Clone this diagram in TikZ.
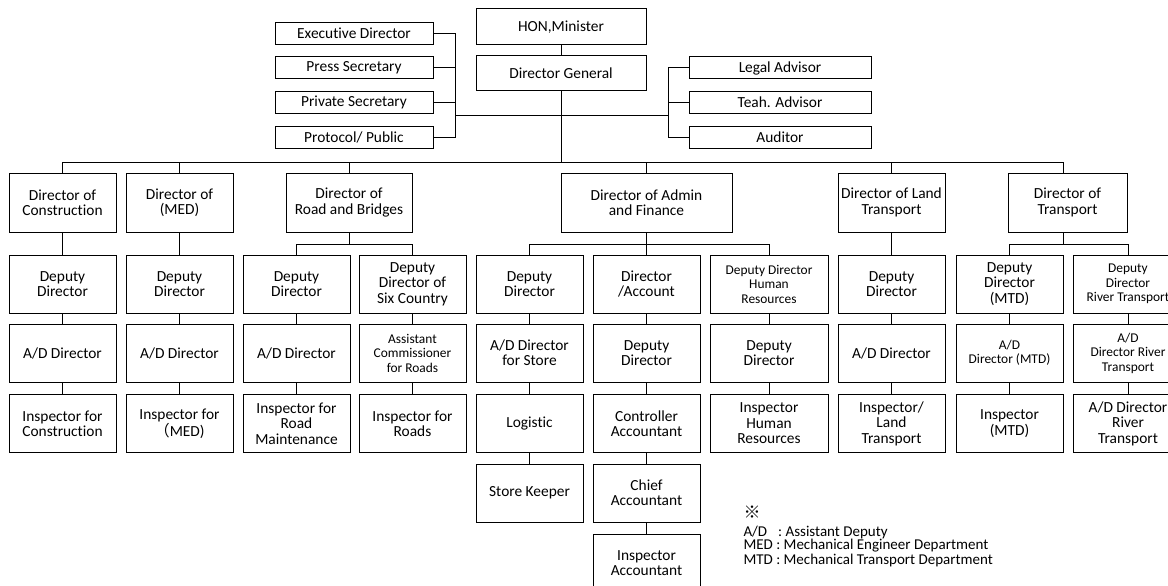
\documentclass[tikz,border=0pt]{standalone}
\usepackage{fontspec}
\setmainfont{Carlito}[Ligatures=NoCommon]
\newfontfamily\cjkfont{Noto Sans CJK JP}

\begin{document}
\begin{tikzpicture}[x=1pt,y=-1pt,line width=1pt,
    box/.style={draw,align=center,inner sep=0pt,minimum width=107pt,minimum height=58pt,font=\fontsize{15.4}{15.4}\selectfont},
    smalltext/.style={font=\fontsize{13.4}{14.5}\selectfont},
    staff/.style={box,minimum width=158pt,minimum height=22pt},
    advisor/.style={staff,minimum width=182pt},
    chief/.style={box,minimum width=170pt,minimum height=35pt},
    head/.style={box,minimum height=59pt},
    legend/.style={anchor=west,inner sep=0pt,font=\fontsize{15}{15}\selectfont}]
      \useasboundingbox (0,0) rectangle (1168,586);
      % top
      \node[chief,minimum height=36pt] (minister) at (561,27) {HON,Minister};
      \node[chief] (dg) at (561,73.5) {Director General};
      \draw (minister) -- (dg);
      \node[staff] (exec) at (354,33.5) {Executive Director};
      \node[staff] (press) at (354,68) {Press Secretary};
      \node[staff] (private) at (354,102.5) {Private Secretary};
      \node[staff] (protocol) at (354,137) {Protocol/ Public};
      \node[advisor] (legal) at (780,68) {Legal Advisor};
      \node[advisor] (tech) at (780,102.5) {Teah. Advisor};
      \node[advisor] (auditor) at (780,137.5) {Auditor};
      \coordinate (lbus) at (455,115);
      \coordinate (rbus) at (668,115);
      \coordinate (top) at (561,162);
      \draw (exec.east) -| (lbus);
      \draw (press.east) -| (lbus);
      \draw (private.east) -| (lbus);
      \draw (protocol.east) -| (lbus);
      \draw (legal.west) -| (rbus);
      \draw (tech.west) -| (rbus);
      \draw (auditor.west) -| (rbus);
      \draw (lbus) -- (rbus);
      \draw (dg) -- (top);
      % directors
      \node[head] (dcon) at (62.5,202.5) {Director of\\Construction};
      \node[head] (dmed) at (179.5,202.5) {Director of\\(MED)};
      \node[head,minimum width=126pt] (droad) at (349,202.5) {Director of\\Road and Bridges};
      \node[head,minimum width=171pt] (dadm) at (646.5,202.5) {Director of Admin\\and Finance};
      \node[head] (dland) at (891.5,202.5) {Director of Land\\Transport};
      \node[head,minimum width=119pt] (dtra) at (1067.5,202.5) {Director of\\Transport};
      \coordinate (rfork) at (349,244);
      \coordinate (afork) at (646.5,244);
      \coordinate (tfork) at (1063,244);
      \draw (dcon.north) |- (top);
      \draw (dmed.north) |- (top);
      \draw (droad.north) |- (top);
      \draw (dadm.north) |- (top);
      \draw (dland.north) |- (top);
      \draw (dtra.north -| tfork) |- (top);
      % construction
      \node[box] (con1) at (62.5,284) {Deputy\\Director};
      \node[box] (con2) at (62.5,353) {A/D Director};
      \node[box] (con3) at (62.5,423.5) {Inspector for\\Construction};
      \draw (dcon) -- (con1) -- (con2) -- (con3);
      % med
      \node[box] (med1) at (179.5,284) {Deputy\\Director};
      \node[box] (med2) at (179.5,353) {A/D Director};
      \node[box] (med3) at (179.5,423.5) {Inspector for\\{\cjkfont （}MED)};
      \draw (dmed) -- (med1) -- (med2) -- (med3);
      % road and bridges
      \node[box] (road1) at (296.5,284) {Deputy\\Director};
      \node[box] (road2) at (296.5,353) {A/D Director};
      \node[box] (road3) at (296.5,423.5) {Inspector for\\Road\\Maintenance};
      \node[box] (six1) at (412.5,284) {Deputy\\Director of\\Six Country};
      \node[box,smalltext] (six2) at (412.5,353) {Assistant\\Commissioner\\for Roads};
      \node[box] (six3) at (412.5,423.5) {Inspector for\\Roads};
      \draw (droad) -- (rfork);
      \draw (road1.north) |- (rfork);
      \draw (six1.north) |- (rfork);
      \draw (road1) -- (road2) -- (road3);
      \draw (six1) -- (six2) -- (six3);
      % admin and finance
      \node[box] (store1) at (529.5,284) {Deputy\\Director};
      \node[box] (store2) at (529.5,353) {A/D Director\\for Store};
      \node[box] (store3) at (529.5,423.5) {Logistic};
      \node[box] (store4) at (529.5,493) {Store Keeper};
      \node[box] (acc1) at (646.5,284) {Director\\/Account};
      \node[box] (acc2) at (646.5,353) {Deputy\\Director};
      \node[box] (acc3) at (646.5,423.5) {Controller\\Accountant};
      \node[box] (acc4) at (646.5,493) {Chief\\Accountant};
      \node[box] (acc5) at (646.5,563) {Inspector\\Accountant};
      \node[box,smalltext,minimum width=118pt] (hr1) at (769,284) {Deputy Director\\Human\\Resources};
      \node[box,minimum width=118pt] (hr2) at (769,353) {Deputy\\Director};
      \node[box,minimum width=118pt] (hr3) at (769,423.5) {Inspector\\Human\\Resources};
      \draw (dadm) -- (afork);
      \draw (store1.north) |- (afork);
      \draw (hr1.north) |- (afork);
      \draw (afork) -- (acc1);
      \draw (store1) -- (store2) -- (store3) -- (store4);
      \draw (acc1) -- (acc2) -- (acc3) -- (acc4) -- (acc5);
      \draw (hr1) -- (hr2) -- (hr3);
      % land transport
      \node[box] (land1) at (891.5,284) {Deputy\\Director};
      \node[box] (land2) at (891.5,353) {A/D Director};
      \node[box] (land3) at (891.5,423.5) {Inspector/\\Land\\Transport};
      \draw (dland) -- (land1) -- (land2) -- (land3);
      % transport
      \node[box] (mtd1) at (1009.5,284) {Deputy\\Director\\(MTD)};
      \node[box,smalltext] (mtd2) at (1009.5,353) {A/D\\Director (MTD)};
      \node[box] (mtd3) at (1009.5,423.5) {Inspector\\(MTD)};
      \node[box,smalltext,minimum width=110pt] (river1) at (1128,284) {Deputy\\Director\\River Transport};
      \node[box,smalltext,minimum width=110pt] (river2) at (1128,353) {A/D\\Director River\\Transport};
      \node[box,minimum width=110pt] (river3) at (1128,423.5) {A/D Director\\River\\Transport};
      \draw (dtra.south -| tfork) -- (tfork);
      \draw (mtd1.north) |- (tfork);
      \draw (river1.north) |- (tfork);
      \draw (mtd1) -- (mtd2) -- (mtd3);
      \draw (river1) -- (river2) -- (river3);
      % legend
      \node[legend] (mark) at (743,512) {\cjkfont\fontsize{17}{17}\selectfont ※};
      \node[legend] (noteAD) at (743,532) {A/D\hspace{11pt}: Assistant Deputy};
      \node[legend] (noteMED) at (743,546) {MED : Mechanical Engineer Department};
      \node[legend] (noteMTD) at (743,560) {MTD : Mechanical Transport Department};
\end{tikzpicture}
\end{document}
